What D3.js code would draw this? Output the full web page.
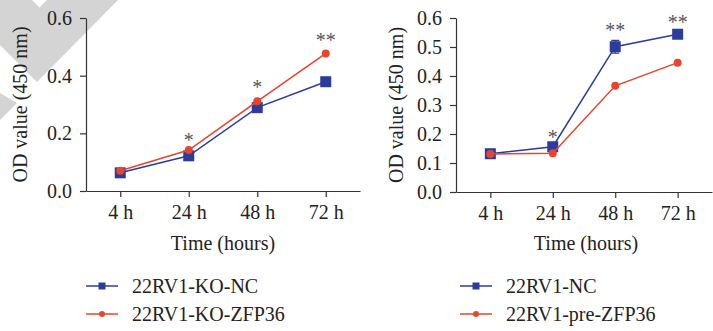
<!DOCTYPE html>
<html>
<head>
<meta charset="utf-8">
<script src="https://cdn.jsdelivr.net/npm/d3@7"></script>
<style>
  body { margin: 0; background: #fff; }
  svg { display: block; font-family: "Liberation Serif", "DejaVu Serif", serif; }
  .axis path, .axis line { stroke: #333; stroke-width: 1.2; }
  .axis text { font-size: 20px; fill: #222; font-family: "Liberation Serif", serif; }
  .axis-label { font-size: 20px; fill: #222; }
  .legend-text { font-size: 20px; fill: #222; }
  .star { font-size: 20px; fill: #555; }
</style>
</head>
<body>
<svg id="chart"></svg>
<script>
const width = 713;
const height = 331;

const BLUE = "#2c3c9c";
const RED = "#e8452f";

const timepoints = ["4 h", "24 h", "48 h", "72 h"];
const yTicks = [[0, 0.2, 0.4, 0.6], [0, 0.1, 0.2, 0.3, 0.4, 0.5, 0.6]];

// left panel
const koNC = [0.063, 0.122, 0.289, 0.379];
const koZFP36 = [0.070, 0.142, 0.311, 0.477];
const koNCErr = [0, 0, 0, 0];
const koZFP36Err = [0, 0, 0, 0];
const leftStars = ["", "*", "*", "**"];
const leftStarY = [0, 0.187, 0.368, 0.531];

// right panel
const nc = [0.132, 0.156, 0.501, 0.544];
const preZFP36 = [0.131, 0.134, 0.366, 0.446];
const ncErr = [0, 0, 0.022, 0];
const preZFP36Err = [0, 0, 0, 0];
const rightStars = ["", "*", "**", "**"];
const rightStarY = [0, 0.198, 0.567, 0.594];

const leftLegend = ["22RV1-KO-NC", "22RV1-KO-ZFP36"];
const rightLegend = ["22RV1-NC", "22RV1-pre-ZFP36"];

const svg = d3.select("#chart").attr("width", width).attr("height", height);

// grey watermark in the top-left corner
svg.append("path")
  .attr("fill", "#d4d4d4")
  .attr("d", "M0,0 L32,0 L39.5,7.5 L47,0 L118,0 L37,82 L0,45 Z M0,93 L17,103 L0,120 Z");

const panels = [
  {
    xRange: [86, 360], xPad: 0.5, yRange: [191, 18], ticks: yTicks[0],
    series: [
      {values: koNC, err: koNCErr, color: BLUE, shape: "square", name: leftLegend[0]},
      {values: koZFP36, err: koZFP36Err, color: RED, shape: "circle", name: leftLegend[1]}
    ],
    stars: leftStars, starY: leftStarY,
    yLabelX: 20, xLabelX: 223, legendX: 86
  },
  {
    xRange: [456, 712], xPad: 0.55, yRange: [192, 18], ticks: yTicks[1],
    series: [
      {values: nc, err: ncErr, color: BLUE, shape: "square", name: rightLegend[0]},
      {values: preZFP36, err: preZFP36Err, color: RED, shape: "circle", name: rightLegend[1]}
    ],
    stars: rightStars, starY: rightStarY,
    yLabelX: 396, xLabelX: 586, legendX: 460
  }
];

function drawMarker(g, shape, x, y, size, color) {
  if (shape === "square") {
    g.append("rect")
      .attr("x", x - size / 2).attr("y", y - size / 2)
      .attr("width", size).attr("height", size)
      .attr("fill", color);
  } else {
    g.append("circle")
      .attr("cx", x).attr("cy", y).attr("r", size / 2)
      .attr("fill", color);
  }
}

for (const p of panels) {
  const x = d3.scalePoint().domain(timepoints).range(p.xRange).padding(p.xPad);
  const y = d3.scaleLinear().domain([0, 0.6]).range(p.yRange);
  const g = svg.append("g");

  g.append("g")
    .attr("class", "axis")
    .attr("transform", `translate(0,${p.yRange[0]})`)
    .call(d3.axisBottom(x).tickSize(6).tickSizeOuter(0).tickPadding(8));

  g.append("g")
    .attr("class", "axis")
    .attr("transform", `translate(${p.xRange[0]},0)`)
    .call(d3.axisLeft(y).tickValues(p.ticks).tickFormat(d3.format(".1f"))
      .tickSize(6).tickSizeOuter(0).tickPadding(8));

  g.append("text")
    .attr("class", "axis-label")
    .attr("text-anchor", "middle")
    .attr("transform", `translate(${p.yLabelX},${(p.yRange[0] + p.yRange[1]) / 2}) rotate(-90)`)
    .attr("dy", "0.35em")
    .text("OD value (450 nm)");

  g.append("text")
    .attr("class", "axis-label")
    .attr("text-anchor", "middle")
    .attr("x", p.xLabelX)
    .attr("y", 250)
    .text("Time (hours)");

  for (const s of p.series) {
    const pts = timepoints.map((t, i) => ({t, v: s.values[i], e: s.err[i]}));
    g.append("path")
      .datum(pts)
      .attr("fill", "none")
      .attr("stroke", s.color)
      .attr("stroke-width", 1.5)
      .attr("d", d3.line().x(d => x(d.t)).y(d => y(d.v)));

    for (const d of pts) {
      if (d.e > 0) {
        const cx = x(d.t);
        g.append("path")
          .attr("fill", "none")
          .attr("stroke", s.color)
          .attr("stroke-width", 1.3)
          .attr("d", `M${cx},${y(d.v - d.e)}V${y(d.v + d.e)}M${cx - 4},${y(d.v + d.e)}H${cx + 4}M${cx - 4},${y(d.v - d.e)}H${cx + 4}`);
      }
      drawMarker(g, s.shape, x(d.t), y(d.v), s.shape === "square" ? 11 : 8, s.color);
    }
  }

  timepoints.forEach((t, i) => {
    if (!p.stars[i]) return;
    g.append("text")
      .attr("class", "star")
      .attr("text-anchor", "middle")
      .attr("x", x(t))
      .attr("y", y(p.starY[i]) + 9.5)
      .text(p.stars[i]);
  });

  p.series.forEach((s, i) => {
    const ly = 286 + i * 28;
    g.append("line")
      .attr("x1", p.legendX).attr("x2", p.legendX + 32)
      .attr("y1", ly).attr("y2", ly)
      .attr("stroke", s.color).attr("stroke-width", 1.5);
    drawMarker(g, s.shape, p.legendX + 16, ly, s.shape === "square" ? 7 : 6, s.color);
    g.append("text")
      .attr("class", "legend-text")
      .attr("x", p.legendX + 46)
      .attr("y", ly)
      .attr("dy", "0.35em")
      .text(s.name);
  });
}
</script>
</body>
</html>
